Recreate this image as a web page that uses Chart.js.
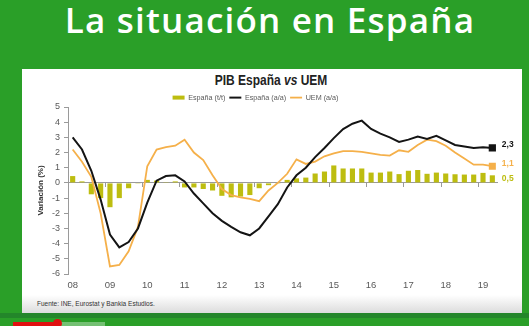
<!DOCTYPE html>
<html>
<head>
<meta charset="utf-8">
<script src="https://cdn.jsdelivr.net/npm/chart.js@4.4.0/dist/chart.umd.min.js"></script>
<style>
  html, body { margin: 0; padding: 0; }
  body { width: 529px; height: 326px; background: #2a9f28; position: relative; overflow: hidden; }
  #slideTitle { position: absolute; left: 0; top: 2px; width: 540px; text-align: center; color: #fff; font: 600 35px/1 'Open Sans', sans-serif; letter-spacing: 1.2px; }
  #panel { position: absolute; left: 22px; top: 69px; width: 500px; height: 244px; background: linear-gradient(#fff 0, #fff 226px, #dcdcdc 244px); }
  #chartTitle { position: absolute; left: 0; top: 72px; width: 542px; text-align: center; color: #222; font: bold 15px/1 'Liberation Sans', sans-serif; transform: scaleX(0.8); transform-origin: 271px 0; }
  #chartTitle i { font-style: italic; }
  #source { position: absolute; left: 37px; top: 301px; color: #333; font: 6.5px/1 'Liberation Sans', sans-serif; }
  #strip { position: absolute; left: 0; top: 313px; width: 529px; height: 5px; background: #23862a; }
  #played { position: absolute; left: 13px; top: 322px; width: 44px; height: 4px; background: #e01010; }
  #knob { position: absolute; left: 53px; top: 319px; width: 9px; height: 9px; border-radius: 50%; background: #e01010; }
  #buffered { position: absolute; left: 57px; top: 322px; width: 48px; height: 4px; background: rgba(255,255,255,0.35); }
  #chart { position: absolute; left: 0; top: 0; }
</style>
</head>
<body>
<div id="slideTitle">La situación en España</div>
<div id="panel"></div>
<div id="chartTitle">PIB España <i>vs</i> UEM</div>
<div id="source">Fuente: INE, Eurostat y Bankia Estudios.</div>
<div id="strip"></div>
<div id="buffered"></div>
<div id="played"></div>
<div id="knob"></div>
<canvas id="chart" width="529" height="326"></canvas>
<script>
// PIB quarterly, 2008 T1 .. 2019 T2
const yearLabels = ['08', '09', '10', '11', '12', '13', '14', '15', '16', '17', '18', '19'];
const quarterNames = ['T1', 'T2', 'T3', 'T4'];
const quarters = yearLabels.flatMap(y => quarterNames.map(q => y + ' ' + q)).slice(0, 46);

// España (t/t) - bars
const espanaTT = [
  0.45, 0.1, -0.75, -1.0, -1.6, -1.0, -0.35, -0.05,
  0.2, 0.15, 0.05, 0.1, -0.3, -0.3, -0.4, -0.5,
  -0.85, -0.95, -0.9, -0.8, -0.35, -0.15, -0.05, 0.2,
  0.3, 0.35, 0.62, 0.75, 1.15, 0.95, 0.95, 0.95,
  0.68, 0.68, 0.75, 0.58, 0.8, 0.85, 0.6, 0.68,
  0.62, 0.57, 0.55, 0.55, 0.66, 0.5
];
// España (a/a) - black line
const espanaAA = [
  3.0, 2.2, 0.8, -1.1, -3.4, -4.25, -3.9, -3.0,
  -1.3, 0.15, 0.45, 0.5, 0.1, -0.7, -1.35, -2.0,
  -2.5, -2.9, -3.25, -3.45, -3.0, -2.2, -1.4, -0.3,
  0.5, 1.0, 1.7, 2.3, 2.95, 3.55, 3.9, 4.1,
  3.55, 3.25, 3.0, 2.7, 2.85, 3.05, 2.9, 3.1,
  2.8, 2.5, 2.4, 2.3, 2.35, 2.3
];
// UEM (a/a) - orange line
const uemAA = [
  2.2, 1.4, 0.4, -2.0, -5.5, -5.4, -4.5, -2.9,
  1.1, 2.2, 2.35, 2.45, 2.85, 2.0, 1.5, 0.5,
  -0.4, -0.8, -0.95, -1.05, -1.2, -0.5, 0.0, 0.6,
  1.55, 1.25, 1.4, 1.75, 1.95, 2.1, 2.1, 2.05,
  1.95, 1.85, 1.8, 2.15, 2.05, 2.5, 2.85, 2.75,
  2.45, 2.0, 1.6, 1.2, 1.2, 1.1
];

const OLIVE = '#bdbd10';
const BLACK = '#141414';
const ORANGE = '#f5b04a';
const AXIS = '#9a9a9a';
const TEXT = '#595959';

const lastOnly = r => ctx => ctx.dataIndex === ctx.dataset.data.length - 1 ? r : 0;

// legend a bit tighter, and end-of-series value labels
const chartExtras = {
  id: 'chartExtras',
  beforeLayout(chart) {
    const lg = chart.legend;
    if (lg && !lg._tight) {
      const fit = lg.fit;
      lg.fit = function () { fit.call(this); this.height = 17; };
      lg._tight = true;
    }
  },
  afterLayout(chart) {
    chart.legend.left -= 10;
    chart.legend.right -= 10;
  },
  afterDatasetsDraw(chart) {
    const ctx = chart.ctx;
    ctx.save();
    ctx.font = 'bold 8.5px "Liberation Sans", sans-serif';
    ctx.textBaseline = 'middle';
    chart.data.datasets.forEach((ds, i) => {
      const meta = chart.getDatasetMeta(i);
      const el = meta.data[meta.data.length - 1];
      const v = ds.data[ds.data.length - 1];
      const isBar = ds.type === 'bar';
      ctx.fillStyle = isBar ? ds.backgroundColor : ds.borderColor;
      const y = isBar ? (el.y + el.base) / 2 : el.y - 3;
      ctx.fillText(v.toFixed(1).replace('.', ','), el.x + 9.5, y);
    });
    ctx.restore();
  }
};

new Chart(document.getElementById('chart'), {
  type: 'bar',
  data: {
    labels: quarters,
    datasets: [
      {
        type: 'bar', label: 'España (t/t)', data: espanaTT, xAxisID: 'x',
        backgroundColor: OLIVE, borderWidth: 0,
        barPercentage: 0.55, categoryPercentage: 1, order: 3
      },
      {
        type: 'line', label: 'España (a/a)', data: espanaAA, xAxisID: 'x',
        borderColor: BLACK, backgroundColor: BLACK, borderWidth: 2, tension: 0,
        pointStyle: 'rect', pointRadius: lastOnly(3.7), pointHoverRadius: 0, order: 1
      },
      {
        type: 'line', label: 'UEM (a/a)', data: uemAA, xAxisID: 'x',
        borderColor: ORANGE, backgroundColor: ORANGE, borderWidth: 1.8, tension: 0,
        pointStyle: 'rect', pointRadius: lastOnly(3.7), pointHoverRadius: 0, order: 2
      }
    ]
  },
  options: {
    responsive: false,
    animation: false,
    layout: { padding: { top: 90, left: 34, right: 32, bottom: 30 } },
    plugins: {
      tooltip: { enabled: false },
      legend: {
        position: 'top',
        labels: {
          usePointStyle: true,
          pointStyleWidth: 12,
          boxHeight: 4,
          padding: 4,
          color: TEXT,
          font: { family: 'Liberation Sans', size: 7.2 },
          sort: (a, b) => a.datasetIndex - b.datasetIndex,
          generateLabels(chart) {
            const items = Chart.defaults.plugins.legend.labels.generateLabels(chart);
            items.forEach(it => {
              const ds = chart.data.datasets[it.datasetIndex];
              if (ds.type === 'line') {
                it.pointStyle = 'line';
              } else {
                it.pointStyle = 'rect';
                it.lineWidth = 0;
              }
            });
            return items;
          }
        }
      }
    },
    scales: {
      x: {
        type: 'category',
        position: 'bottom',
        offset: true,
        grid: { display: false, drawTicks: false },
        border: { display: false },
        ticks: {
          autoSkip: false, maxRotation: 0, padding: 6,
          color: TEXT, font: { family: 'Liberation Sans', size: 9.5 },
          callback: (v, i) => i % 4 === 0 ? yearLabels[i / 4] : ''
        },
        afterFit: s => { s.height = 22; }
      },
      x0: {
        type: 'category',
        position: { y: 0 },
        offset: true,
        grid: {
          offset: true, drawOnChartArea: false, drawTicks: true, tickLength: 4,
          color: c => c.index % 4 === 0 ? AXIS : 'rgba(0,0,0,0)'
        },
        border: { display: true, color: AXIS, width: 1 },
        ticks: { display: false, autoSkip: false }
      },
      y: {
        min: -6, max: 5,
        ticks: { stepSize: 1, padding: 4, color: TEXT, font: { family: 'Liberation Sans', size: 9 } },
        grid: { drawOnChartArea: false, tickLength: 4, color: AXIS },
        border: { color: AXIS },
        title: {
          display: true, text: 'Variación (%)', color: '#333',
          font: { family: 'Liberation Sans', size: 8, weight: 'bold' },
          padding: { top: 2, bottom: 0 }
        },
        afterFit: s => { s.width = 34; }
      }
    }
  },
  plugins: [chartExtras]
});
</script>
</body>
</html>
